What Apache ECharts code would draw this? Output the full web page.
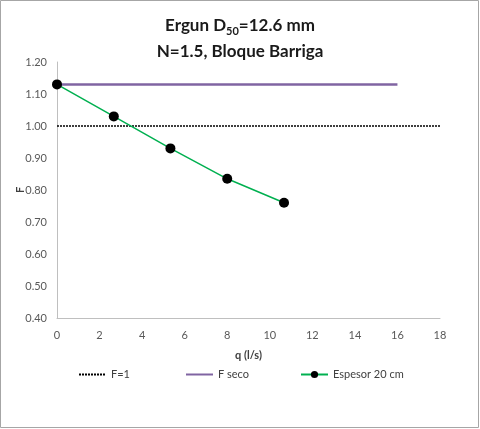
<!DOCTYPE html>
<html>
<head>
<meta charset="utf-8">
<script src="https://cdn.jsdelivr.net/npm/echarts@6/dist/echarts.min.js"></script>
<style>
    html, body { margin: 0; padding: 0; background: #fff; }
    #chart { width: 480px; height: 429px; }
</style>
</head>
<body>
<div id="chart"></div>
<script>
// datos
var qEspesor = [0, 2.67, 5.33, 8.0, 10.67];
var fEspesor = [1.13, 1.03, 0.93, 0.835, 0.76];
var qSeco = [0, 16];
var fSeco = [1.13, 1.13];
var qUno = [0, 18];
var fUno = [1.0, 1.0];

function pares(xs, ys) {
    var out = [];
    for (var i = 0; i < xs.length; i++) {
        out.push([xs[i], ys[i]]);
    }
    return out;
}

var chart = echarts.init(document.getElementById('chart'));
var fuente = 'Lato';
var textoLeyenda = {fontFamily: fuente, fontSize: 11, color: '#404040'};

var option = {
    animation: false,
    backgroundColor: '#fff',
    graphic: [{
        type: 'rect',
        shape: {x: 0.5, y: 0.5, width: 478, height: 427},
        style: {fill: 'none', stroke: '#a6a6a6', lineWidth: 1}
    }],
    title: {
        left: 'center',
        top: 8,
        text: '{a|Ergun D}{s|50}{a|=12.6 mm}\n{a|N=1.5, Bloque Barriga}',
        textStyle: {
            rich: {
                a: {fontFamily: fuente, fontSize: 17, fontWeight: 'bold', color: '#1a1a1a', lineHeight: 26},
                s: {fontFamily: fuente, fontSize: 11, fontWeight: 'bold', color: '#1a1a1a', padding: [10, 0, 0, 0], lineHeight: 26}
            }
        }
    },
    grid: {left: 57, right: 40, top: 62, bottom: 111, outerBoundsMode: 'none'},
    legend: [
        {left: 78, top: 369, padding: 0, itemWidth: 27, itemHeight: 10, textStyle: textoLeyenda,
            data: [{name: 'F=1', itemStyle: {opacity: 0}}]},
        {left: 185, top: 369, padding: 0, itemWidth: 27, itemHeight: 10, textStyle: textoLeyenda,
            data: [{name: 'F seco', itemStyle: {opacity: 0}}]},
        {left: 300, top: 369, padding: 0, itemWidth: 27, itemHeight: 9, textStyle: textoLeyenda,
            data: ['Espesor 20 cm']}
    ],
    xAxis: {
        type: 'value',
        min: 0,
        max: 18,
        interval: 2,
        name: 'q (l/s)',
        nameLocation: 'middle',
        nameGap: 32,
        nameTextStyle: {fontFamily: fuente, fontSize: 11, fontWeight: 'bold', color: '#404040'},
        axisLine: {lineStyle: {color: '#bfbfbf'}},
        axisTick: {show: false},
        splitLine: {show: false},
        axisLabel: {fontFamily: fuente, fontSize: 11, color: '#595959', margin: 12}
    },
    yAxis: {
        type: 'value',
        min: 0.4,
        max: 1.2,
        interval: 0.1,
        name: 'F',
        nameLocation: 'middle',
        nameGap: 31,
        nameMoveOverlap: false,
        nameTextStyle: {fontFamily: fuente, fontSize: 11, fontWeight: 'bold', color: '#404040'},
        axisLine: {show: true, lineStyle: {color: '#bfbfbf'}},
        axisTick: {show: false},
        splitLine: {show: false},
        axisLabel: {
            fontFamily: fuente, fontSize: 11, color: '#595959', margin: 10,
            formatter: function (v) { return v.toFixed(2); }
        }
    },
    series: [
        {
            name: 'F=1',
            type: 'line',
            data: pares(qUno, fUno),
            symbol: 'none',
            lineStyle: {color: '#000', width: 1.5, type: [2, 1]},
            itemStyle: {color: '#000'}
        },
        {
            name: 'F seco',
            type: 'line',
            data: pares(qSeco, fSeco),
            symbol: 'none',
            lineStyle: {color: '#8064a2', width: 2.5},
            itemStyle: {color: '#8064a2'}
        },
        {
            name: 'Espesor 20 cm',
            type: 'line',
            data: pares(qEspesor, fEspesor),
            symbol: 'circle',
            symbolSize: 10,
            lineStyle: {color: '#00b050', width: 1.5},
            itemStyle: {color: '#000', borderWidth: 0}
        }
    ]
};

chart.setOption(option);
</script>
</body>
</html>
